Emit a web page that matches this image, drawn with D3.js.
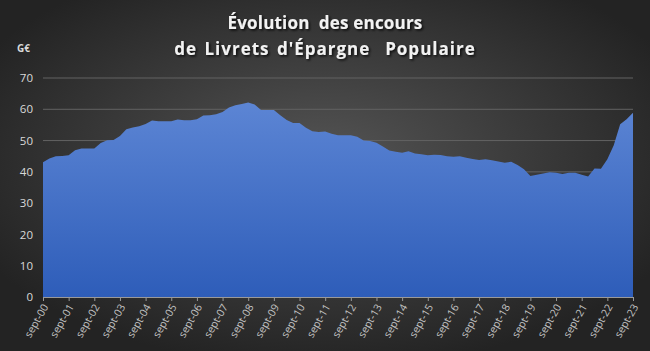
<!DOCTYPE html>
<html>
<head>
<meta charset="utf-8">
<script src="https://cdn.jsdelivr.net/npm/d3@7"></script>
<style>
  body { margin: 0; background: #2a2a2a; }
  svg { display: block; }
</style>
</head>
<body>
<div id="chart"></div>
<script>
// quarterly outstanding amounts (G€), sept-00 .. sept-23
values = [
  43.1, 44.3, 45.0, 45.1, 45.3, 46.9, 47.5, 47.5, 47.5, 49.2,
  50.1, 50.2, 51.5, 53.6, 54.2, 54.6, 55.3, 56.4, 56.2, 56.2,
  56.2, 56.7, 56.5, 56.5, 56.8, 58.0, 58.1, 58.4, 59.1, 60.6,
  61.3, 61.7, 62.2, 61.5, 59.8, 59.8, 59.8, 58.1, 56.6, 55.6,
  55.6, 54.1, 53.0, 52.7, 52.9, 52.2, 51.7, 51.7, 51.7, 51.2,
  50.0, 49.9, 49.3, 48.1, 46.8, 46.4, 46.1, 46.6, 45.9, 45.6,
  45.3, 45.5, 45.4, 45.0, 44.8, 45.0, 44.5, 44.1, 43.8, 44.0,
  43.7, 43.3, 42.9, 43.2, 42.2, 40.8, 38.7, 39.1, 39.5, 39.9,
  39.7, 39.3, 39.7, 39.7, 39.1, 38.5, 41.1, 41.0, 44.0, 48.5,
  55.2, 56.8, 58.9
]
yearLabels = ["sept-00","sept-01","sept-02","sept-03","sept-04","sept-05","sept-06",
  "sept-07","sept-08","sept-09","sept-10","sept-11","sept-12","sept-13","sept-14",
  "sept-15","sept-16","sept-17","sept-18","sept-19","sept-20","sept-21","sept-22","sept-23"]
yTicks = [0, 10, 20, 30, 40, 50, 60, 70]
titleLines = ["Évolution\u00a0 des encours", "de Livrets d'Épargne\u00a0 Populaire"]

W = 650, H = 351
margin = {top: 78, right: 17, bottom: 54, left: 43}
width = W - margin.left - margin.right
height = H - margin.top - margin.bottom

svg = d3.select("#chart").append("svg")
  .attr("width", W)
  .attr("height", H)

defs = svg.append("defs")
bg = defs.append("radialGradient").attr("id", "bg")
  .attr("cx", "50%").attr("cy", "45%").attr("r", "60%")
bg.append("stop").attr("offset", "0%").attr("stop-color", "#545454")
bg.append("stop").attr("offset", "100%").attr("stop-color", "#232323")

fillGrad = defs.append("linearGradient").attr("id", "fillGrad")
  .attr("x1", 0).attr("y1", 0).attr("x2", 0).attr("y2", 1)
fillGrad.append("stop").attr("offset", "0%").attr("stop-color", "#5c85d4")
fillGrad.append("stop").attr("offset", "100%").attr("stop-color", "#2e5db9")

shadow = defs.append("filter").attr("id", "shadow")
  .attr("x", "-10%").attr("y", "-20%").attr("width", "120%").attr("height", "150%")
shadow.append("feDropShadow").attr("dx", 1.5).attr("dy", 1.5)
  .attr("stdDeviation", 1).attr("flood-color", "#000").attr("flood-opacity", 0.8)

svg.append("rect").attr("width", W).attr("height", H).attr("fill", "url(#bg)")

g = svg.append("g").attr("transform", `translate(${margin.left}, ${margin.top})`)

x = d3.scaleLinear().domain([0, values.length - 1]).range([0, width])
y = d3.scaleLinear().domain([0, 70]).range([height, 0])

// gridlines
g.append("g")
  .selectAll("line")
  .data(yTicks.filter(d => d > 0))
  .join("line")
    .attr("x1", 0).attr("x2", width)
    .attr("y1", d => y(d)).attr("y2", d => y(d))
    .attr("stroke", "#636363")
    .attr("stroke-width", 1)

// area
area = d3.area()
  .x((d, i) => x(i))
  .y0(y(0))
  .y1(d => y(d))
g.append("path")
  .datum(values)
  .attr("d", area)
  .attr("fill", "url(#fillGrad)")

// y axis labels
yAxis = g.append("g")
  .call(d3.axisLeft(y).tickValues(yTicks).tickSize(0).tickPadding(10))
yAxis.select(".domain").remove()
yAxis.selectAll("text")
  .style("font-family", "'Open Sans', sans-serif")
  .style("font-size", "11.5px")
  .attr("fill", "#d9d9d9")

// x axis
xAxis = g.append("g")
  .attr("transform", `translate(0, ${height})`)
  .call(d3.axisBottom(x)
    .tickValues(d3.range(0, values.length, 4))
    .tickFormat((d) => yearLabels[d / 4])
    .tickSize(4))
xAxis.select(".domain").attr("stroke", "#9a9a9a")
xAxis.selectAll(".tick line").attr("stroke", "#9a9a9a")
xAxis.selectAll("text")
  .style("font-family", "'Open Sans', sans-serif")
  .style("font-size", "10.5px")
  .attr("fill", "#c4c4c4")
  .attr("text-anchor", "end")
  .attr("dy", "0.35em")
  .attr("transform", "translate(2, 8) rotate(-60)")
  .attr("y", 0).attr("x", 0)

// unit label
svg.append("text")
  .attr("x", 17).attr("y", 52)
  .style("font-family", "'Open Sans', sans-serif")
  .style("font-size", "10px")
  .style("font-weight", "bold")
  .attr("fill", "#d9d9d9")
  .text("G€")

// title
svg.append("g").selectAll("text")
  .data(titleLines)
  .join("text")
    .attr("x", 325)
    .attr("y", (d, i) => 29 + i * 26)
    .attr("text-anchor", "middle")
    .style("font-family", "'Open Sans', sans-serif")
    .style("font-size", "17px")
    .style("font-weight", "bold")
    .style("letter-spacing", (d, i) => i ? "1px" : "0.2px")
    .style("word-spacing", (d, i) => i ? "2px" : "0px")
    .attr("fill", "#f2f2f2")
    .attr("filter", "url(#shadow)")
    .text(d => d)
</script>
</body>
</html>
